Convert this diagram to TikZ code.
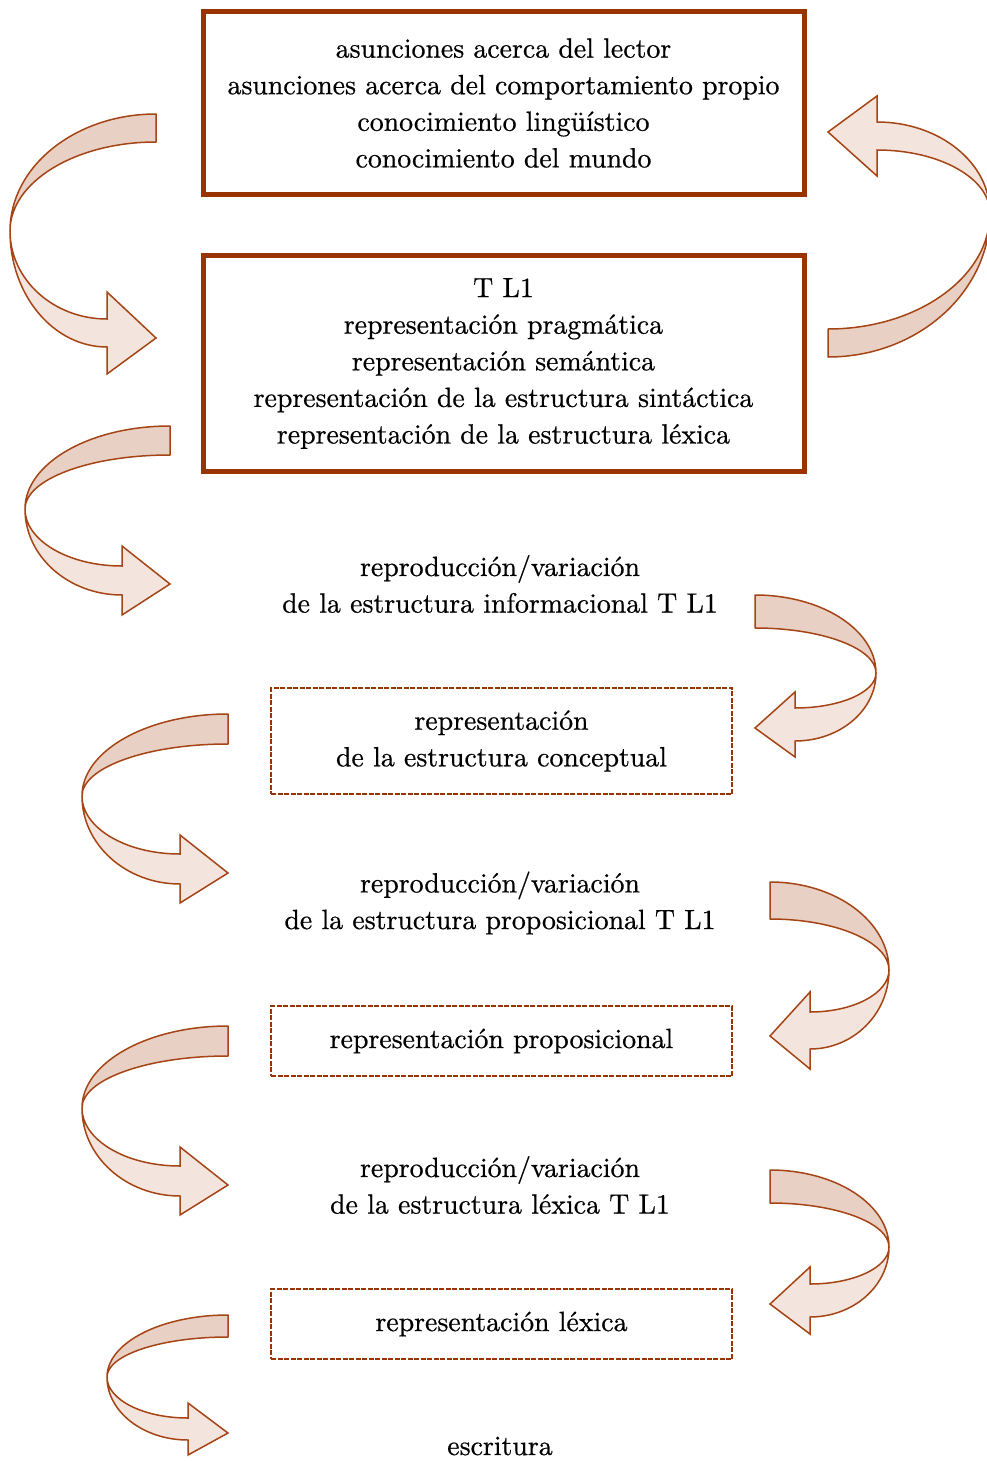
\documentclass[tikz,border=0pt]{standalone}
\usepackage{fontspec}
\newfontfamily\txtface[FakeBold=0.6]{lmroman10-regular.otf}
\definecolor{boxbrown}{RGB}{153,51,0}
\definecolor{arrowbrown}{RGB}{165,68,20}
\definecolor{bandtop}{RGB}{232,208,197}
\definecolor{bandbot}{RGB}{243,228,221}
\newcommand\txtfont{\txtface\fontsize{27.8}{36.6}\selectfont}
\tikzset{
  boxthick/.style={draw=boxbrown, line width=5pt, minimum width=601pt, inner sep=0pt, align=center, font=\txtfont},
  boxdash/.style={draw=boxbrown, line width=1.5pt, dash pattern=on 5pt off 1.5pt, minimum width=461pt, inner sep=0pt, align=center, font=\txtfont},
  freetext/.style={align=center, inner sep=0pt, font=\txtfont},
  topband/.style={fill=bandtop, draw=arrowbrown, line width=1.5pt, line join=round},
  botband/.style={fill=bandbot, draw=arrowbrown, line width=1.5pt, line join=miter},
}
% #1 leftmost x, #2 tail/tip x, #3 tail top y, #4 band width, #5 crossing y,
% #6 head base x, #7 shaft top y at head, #8 tip y, #9 head overhang
\newcommand\ribbon[9]{%
  \filldraw[botband] (#1,#5)
    .. controls (#1,{(#5)+0.552*((#7)+(#4)-(#5))}) and ({(#6)-0.552*((#6)-(#1))},{(#7)+(#4)}) .. (#6,{(#7)+(#4)})
    -- (#6,{(#7)+(#4)+(#9)}) -- (#2,#8) -- (#6,{(#7)-(#9)}) -- (#6,#7)
    .. controls ({(#6)-0.552*((#6)-(#1))},#7) and (#1,{(#5)+0.552*((#7)-(#5))}) .. (#1,#5) -- cycle;
  \filldraw[topband] (#2,#3)
    .. controls ({(#2)-0.552*((#2)-(#1))},#3) and (#1,{(#5)-0.552*((#5)-(#3))}) .. (#1,#5)
    .. controls (#1,{(#5)-0.552*((#5)-(#3)-(#4))}) and ({(#2)-0.552*((#2)-(#1))},{(#3)+(#4)}) .. (#2,{(#3)+(#4)}) -- cycle;
}
\begin{document}
\begin{tikzpicture}[x=1pt,y=-1pt]
\useasboundingbox (0,0) rectangle (987,1461);

\node[boxthick, minimum height=182pt] (b1) at (503.5,103)
  {asunciones acerca del lector\\asunciones acerca del comportamiento propio\\conocimiento lingüístico\\conocimiento del mundo};
\node[boxthick, minimum height=216pt] (b2) at (503.5,363.5)
  {T L1\\representación pragmática\\representación semántica\\representación de la estructura sintáctica\\representación de la estructura léxica};
\node[freetext] (t3) at (500,584) {reproducción/variación\\de la estructura informacional T L1};
\node[boxdash, minimum height=106pt] (b3) at (501.5,741) {representación\\de la estructura conceptual};
\node[freetext] (t5) at (500,903) {reproducción/variación\\de la estructura proposicional T L1};
\node[boxdash, minimum height=70pt] (b4) at (501.5,1041) {representación proposicional};
\node[freetext] (t7) at (500,1185) {reproducción/variación\\de la estructura léxica T L1};
\node[boxdash, minimum height=70pt] (b5) at (501.5,1324) {representación léxica};
\node[freetext] (t9) at (500,1446) {escritura};

% curved ribbon arrows
\ribbon{10}{156}{114}{28}{231}{107}{319}{338}{27}
\begin{scope}[xscale=-1,yscale=-1]
  \ribbon{-990}{-828}{-357}{28}{-213}{-877}{-150}{-132}{26}
\end{scope}
\ribbon{25}{170}{426}{29}{509}{122}{566}{584}{20}
\begin{scope}[xscale=-1]
  \ribbon{-876}{-755}{595}{33}{673}{-795}{708}{728}{16}
\end{scope}
\ribbon{82}{228}{714}{30}{796}{180}{854}{873}{19}
\begin{scope}[xscale=-1]
  \ribbon{-889}{-770}{882}{37}{970}{-810}{1012}{1036}{20}
\end{scope}
\ribbon{82}{228}{1026}{30}{1108}{180}{1166}{1185}{19}
\begin{scope}[xscale=-1]
  \ribbon{-889}{-770}{1170}{33}{1247}{-810}{1284}{1304}{17}
\end{scope}
\ribbon{107}{228}{1315}{22}{1377}{188}{1418}{1433}{15}
\end{tikzpicture}
\end{document}
